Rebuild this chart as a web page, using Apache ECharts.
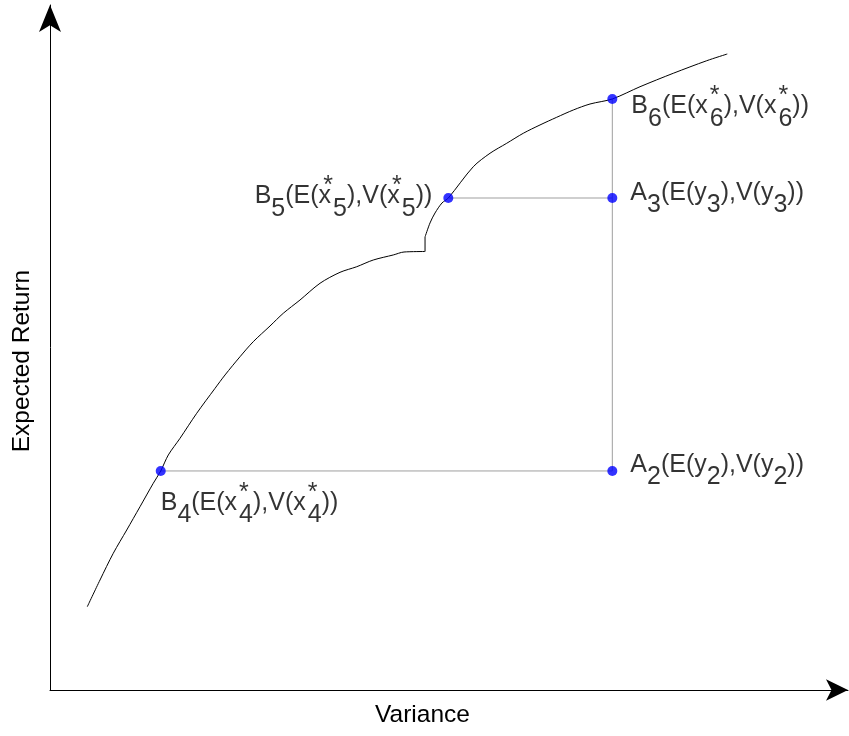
<!DOCTYPE html>
<html>
<head>
<meta charset="utf-8">
<script src="https://cdn.jsdelivr.net/npm/echarts@6/dist/echarts.min.js"></script>
<style>
  html, body { margin: 0; padding: 0; background: #fff; }
  #main { width: 849px; height: 736px; }
</style>
</head>
<body>
<div id="main"></div>
<script>
// 有效前沿曲线 (variance, expected return)
var curveX = [4.66, 6.25, 7.91, 9.59, 11.25, 12.91, 13.84, 14.79, 16.25, 18.34, 20.63, 21.88, 23.75, 25.41, 27.50, 29.16,
  31.25, 33.75, 36.25, 38.34, 40.41, 42.91, 44.25, 46.88,
  46.88, 47.50, 48.13, 49.00, 49.79, 52.91, 55.00, 57.09, 59.16, 61.25, 63.34, 65.41, 67.50, 70.29, 73.75, 77.91, 82.09, 84.66]
var curveY = [10.41, 13.75, 17.09, 20.00, 22.91, 25.84, 27.38, 29.38, 31.46, 34.59, 37.71, 39.38, 41.66, 43.54, 45.50, 47.09,
  48.75, 50.84, 52.21, 52.91, 53.75, 54.38, 54.75, 54.81,
  56.63, 58.38, 59.63, 60.88, 61.50, 65.41, 67.09, 68.34, 69.59, 70.63, 71.59, 72.50, 73.25, 73.88, 75.41, 77.09, 78.66, 79.50]
// 跳变处 (index of first point after the jump)
var stepIndex = 24

// 标记点
var pointNames = ['B4', 'A2', 'B5', 'A3', 'B6']
var pointX = [13.84, 70.29, 49.79, 70.29, 70.29]
var pointY = [27.38, 27.38, 61.50, 61.50, 73.88]

// 连线 (点名)
var links = [['B4', 'A2'], ['B5', 'A3'], ['A2', 'B6']]

var axisMaxX = 99.75
var axisMaxY = 85.625

// 标签文字 (rich)
var labelText = {
  B4: '{m|B}{s|4}{m|(E(x}{p|*}{s|4}{m|),V(x}{p|*}{s|4}{m|))}',
  A2: '{m|A}{s|2}{m|(E(y}{s|2}{m|),V(y}{s|2}{m|))}',
  B5: '{m|B}{s|5}{m|(E(x}{p|*}{s|5}{m|),V(x}{p|*}{s|5}{m|))}',
  A3: '{m|A}{s|3}{m|(E(y}{s|3}{m|),V(y}{s|3}{m|))}',
  B6: '{m|B}{s|6}{m|(E(x}{p|*}{s|6}{m|),V(x}{p|*}{s|6}{m|))}'
}
var labelPlace = {
  B4: { position: 'right', distance: 14, offset: [-19, 44.5] },
  A2: { position: 'right', distance: 13, offset: [0, 6.5] },
  B5: { position: 'left', distance: 11, offset: [0, 11] },
  A3: { position: 'right', distance: 13, offset: [0, 7.5] },
  B6: { position: 'right', distance: 14, offset: [0, 20] }
}

var font = 'Liberation Sans, Arial, sans-serif'
var rich = {
  m: { fontSize: 25, fontFamily: font, color: '#000', height: 36, lineHeight: 36, verticalAlign: 'top' },
  s: { fontSize: 25, fontFamily: font, color: '#000', height: 61, lineHeight: 61, verticalAlign: 'top' },
  p: { fontSize: 25, fontFamily: font, color: '#000', height: 16, lineHeight: 16, verticalAlign: 'top', width: 0, padding: [0, 0, 0, 2] }
}

function pt(name) {
  var i = pointNames.indexOf(name)
  return [pointX[i], pointY[i]]
}

var curveData = curveX.map(function (x, i) { return [x, curveY[i]] })

var series = []
links.forEach(function (l) {
  series.push({
    type: 'line', data: [pt(l[0]), pt(l[1])], symbol: 'none', silent: true,
    lineStyle: { color: '#9f9f9f', width: 1 }, z: 1
  })
})
// 曲线: 跳变前 / 跳变 / 跳变后
series.push({
  type: 'line', data: curveData.slice(0, stepIndex), symbol: 'none', silent: true, smooth: 0.3,
  lineStyle: { color: '#000', width: 1 }, z: 2
})
series.push({
  type: 'line', data: curveData.slice(stepIndex - 1, stepIndex + 1), symbol: 'none', silent: true,
  lineStyle: { color: '#000', width: 1 }, z: 2
})
series.push({
  type: 'line', data: curveData.slice(stepIndex), symbol: 'none', silent: true, smooth: 0.3,
  lineStyle: { color: '#000', width: 1 }, z: 2
})
series.push({
  type: 'scatter', symbolSize: 10, z: 3,
  itemStyle: { color: '#0000ff' },
  data: pointNames.map(function (n, i) {
    var p = labelPlace[n]
    return {
      name: n, value: [pointX[i], pointY[i]],
      label: { show: true, color: '#000', position: p.position, distance: p.distance, offset: p.offset, formatter: labelText[n], rich: rich }
    }
  })
})

var axisCommon = {
  type: 'value', min: 0,
  splitLine: { show: false }, axisTick: { show: false }, axisLabel: { show: false },
  nameLocation: 'middle'
}

var chart = echarts.init(document.getElementById('main'))
chart.setOption({
  animation: false,
  grid: { left: 50, right: 1, top: 5, bottom: 46 },
  xAxis: Object.assign({}, axisCommon, {
    max: axisMaxX, name: 'Variance', nameGap: 13,
    nameTextStyle: { fontSize: 24.5, fontFamily: font, color: '#000', padding: [0, 53, 0, 0], verticalAlign: 'top' },
    axisLine: { show: true, onZero: false, symbol: ['none', 'arrow'], symbolSize: [16, 22], lineStyle: { color: '#000', width: 1 } }
  }),
  yAxis: Object.assign({}, axisCommon, {
    max: axisMaxY, name: 'Expected Return', nameGap: 15,
    nameTextStyle: { fontSize: 24.5, fontFamily: font, color: '#000', padding: [0, 27, 0, 0] },
    axisLine: { show: true, onZero: false, symbol: ['none', 'arrow'], symbolSize: [16.5, 27], lineStyle: { color: '#000', width: 1 } }
  }),
  series: series
})
</script>
</body>
</html>
